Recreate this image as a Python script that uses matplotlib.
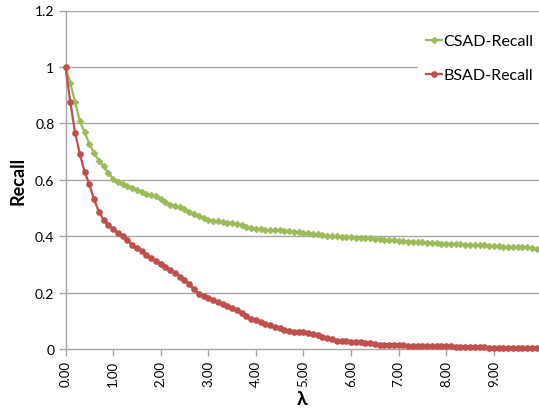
import numpy as np
import matplotlib
matplotlib.use('Agg')
from matplotlib import pyplot as plt

# lambda categories, 0.00 .. 9.90 in steps of 0.1
lam = np.round(np.arange(100) * 0.1, 2)

csad_recall = [
    1.000, 0.944, 0.876, 0.808, 0.769, 0.728, 0.696, 0.667, 0.649, 0.625,
    0.604, 0.592, 0.586, 0.578, 0.569, 0.562, 0.555, 0.550, 0.546, 0.541,
    0.533, 0.522, 0.512, 0.507, 0.504, 0.495, 0.484, 0.478, 0.473, 0.466,
    0.459, 0.455, 0.452, 0.450, 0.448, 0.447, 0.444, 0.440, 0.434, 0.430,
    0.427, 0.424, 0.422, 0.421, 0.422, 0.422, 0.420, 0.419, 0.416, 0.413,
    0.412, 0.410, 0.408, 0.406, 0.404, 0.402, 0.400, 0.399, 0.398, 0.397,
    0.396, 0.395, 0.394, 0.393, 0.392, 0.391, 0.390, 0.388, 0.386, 0.385,
    0.383, 0.382, 0.381, 0.381, 0.379, 0.378, 0.377, 0.376, 0.375, 0.374,
    0.374, 0.373, 0.372, 0.371, 0.370, 0.369, 0.368, 0.368, 0.367, 0.366,
    0.365, 0.364, 0.363, 0.362, 0.362, 0.361, 0.360, 0.360, 0.358, 0.355,
]

bsad_recall = [
    1.000, 0.877, 0.767, 0.693, 0.629, 0.584, 0.530, 0.487, 0.458, 0.440,
    0.425, 0.411, 0.402, 0.388, 0.367, 0.358, 0.347, 0.335, 0.322, 0.312,
    0.300, 0.290, 0.279, 0.270, 0.257, 0.246, 0.231, 0.212, 0.196, 0.189,
    0.181, 0.174, 0.166, 0.159, 0.153, 0.146, 0.139, 0.127, 0.117, 0.108,
    0.102, 0.096, 0.090, 0.084, 0.078, 0.075, 0.069, 0.064, 0.061, 0.060,
    0.059, 0.058, 0.053, 0.048, 0.044, 0.040, 0.035, 0.030, 0.028, 0.027,
    0.026, 0.026, 0.025, 0.023, 0.021, 0.017, 0.014, 0.014, 0.014, 0.014,
    0.014, 0.014, 0.012, 0.010, 0.010, 0.010, 0.010, 0.010, 0.010, 0.010,
    0.010, 0.009, 0.008, 0.008, 0.007, 0.006, 0.006, 0.006, 0.006, 0.005,
    0.005, 0.004, 0.004, 0.004, 0.004, 0.004, 0.003, 0.003, 0.003, 0.003,
]

xticks = [0, 1, 2, 3, 4, 5, 6, 7, 8, 9]
yticks = [0, 0.2, 0.4, 0.6, 0.8, 1.0, 1.2]
ytick_labels = ['0', '0.2', '0.4', '0.6', '0.8', '1', '1.2']

plt.rcParams['font.family'] = ['Lato', 'DejaVu Sans']

fig = plt.figure(figsize=(5.39, 4.10), dpi=100)
ax = fig.add_axes([65.5 / 539, 1 - 350 / 410, (539 - 65.5) / 539, (350 - 11.5) / 410])

grid_color = '#A6A6A6'
for y in yticks[1:]:
    ax.axhline(y, color=grid_color, linewidth=1.0, zorder=1)

ax.plot(lam, csad_recall, color='#9BBB59', linewidth=1.6, marker='D', markersize=3.4,
        markeredgewidth=0.6, label='CSAD-Recall', zorder=3, clip_on=False)
ax.plot(lam, bsad_recall, color='#C0504D', linewidth=1.6, marker='o', markersize=4.8,
        markeredgewidth=0, label='BSAD-Recall', zorder=3, clip_on=False)

ax.set_xlim(0, 9.95)
ax.set_ylim(0, 1.2)

for side in ['top', 'right']:
    ax.spines[side].set_visible(False)
ax.spines['left'].set_color(grid_color)
ax.spines['bottom'].set_color(grid_color)
ax.spines['left'].set_linewidth(1.0)
ax.spines['bottom'].set_linewidth(1.0)

ax.set_xticks(xticks)
ax.set_xticklabels([f'{t:.2f}' for t in xticks], rotation=90, fontsize=9.5)
ax.set_yticks(yticks)
ax.set_yticklabels(ytick_labels, fontsize=10)
ax.tick_params(axis='both', color=grid_color, length=5, width=1.0, direction='out', pad=3)

ax.set_xlabel('λ', fontsize=14, fontweight='bold')
ax.xaxis.set_label_coords(0.5, -0.12)
ax.set_ylabel('Recall', fontsize=13, fontweight='bold')
ax.yaxis.set_label_coords(-0.082, 0.5)

leg = ax.legend(loc='upper left', bbox_to_anchor=(418 / 539, 1 - 27 / 410),
                bbox_transform=fig.transFigure, frameon=True, fontsize=11.5,
                handlelength=1.0, handletextpad=0.1, labelspacing=1.25,
                borderpad=0.5, borderaxespad=0)
leg.get_frame().set_facecolor('white')
leg.get_frame().set_edgecolor('white')
leg.get_frame().set_alpha(1.0)
leg.get_frame().set_boxstyle('square', pad=0)

fig.savefig('out.png', dpi=100)
